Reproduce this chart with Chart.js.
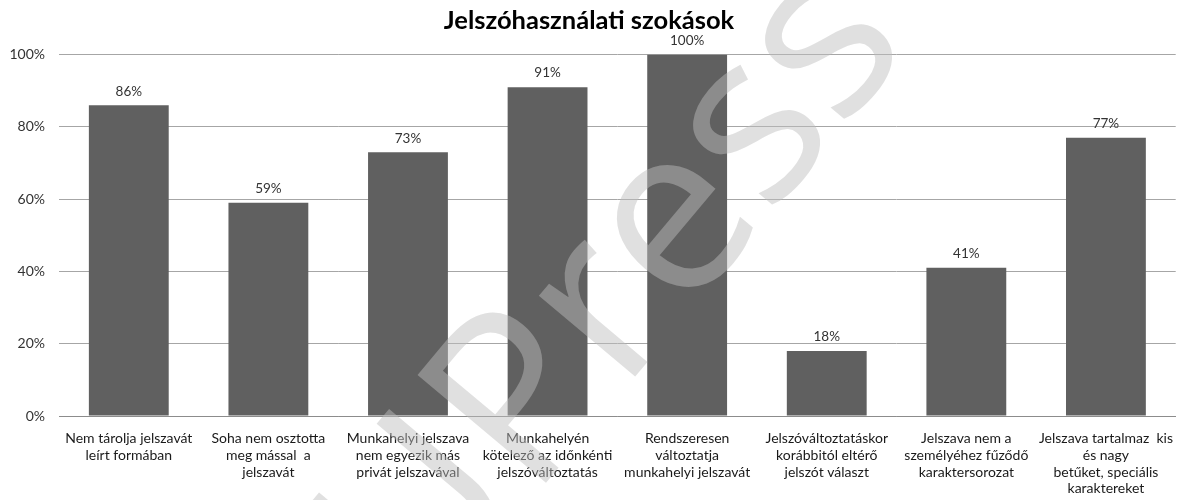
<!DOCTYPE html>
<html>
<head>
<meta charset="utf-8">
<script src="https://cdn.jsdelivr.net/npm/chart.js@4"></script>
<style>
  html, body { margin: 0; padding: 0; background: #fff; }
  #wrap { width: 1179px; height: 500px; }
</style>
</head>
<body>
<div id="wrap"><canvas id="chart" width="1179" height="500"></canvas></div>
<script>
const TITLE = 'Jelszóhasználati szokások';
const CATEGORIES = [
  ['Nem tárolja jelszavát', 'leírt formában'],
  ['Soha nem osztotta', 'meg mással  a', 'jelszavát'],
  ['Munkahelyi jelszava', 'nem egyezik más', 'privát jelszavával'],
  ['Munkahelyén', 'kötelező az időnkénti', 'jelszóváltoztatás'],
  ['Rendszeresen', 'változtatja', 'munkahelyi jelszavát'],
  ['Jelszóváltoztatáskor', 'korábbitól eltérő', 'jelszót választ'],
  ['Jelszava nem a', 'személyéhez fűződő', 'karaktersorozat'],
  ['Jelszava tartalmaz  kis', 'és nagy', 'betűket, speciális', 'karaktereket']
];
const VALUES = [86, 59, 73, 91, 100, 18, 41, 77];
const Y_TICKS = [0, 20, 40, 60, 80, 100];
const WATERMARK = 'HUPress';

const FONT = 'Lato, "Open Sans", sans-serif';

const barLabels = {
  id: 'barLabels',
  afterDatasetsDraw(chart) {
    const { ctx } = chart;
    const meta = chart.getDatasetMeta(0);
    ctx.save();
    ctx.font = '13.5px ' + FONT;
    ctx.fillStyle = '#333';
    ctx.textAlign = 'center';
    ctx.textBaseline = 'middle';
    meta.data.forEach((bar, i) => {
      ctx.fillText(VALUES[i] + '%', bar.x, bar.y - 14);
    });
    ctx.restore();
  }
};

// semi-transparent publisher mark over the plot
const watermark = {
  id: 'watermark',
  afterDraw(chart) {
    const { ctx } = chart;
    ctx.save();
    ctx.translate(560, 362);
    ctx.rotate(-50 * Math.PI / 180);
    ctx.font = '235px "Open Sans", sans-serif';
    ctx.fillStyle = 'rgba(190,190,190,0.47)';
    ctx.textAlign = 'center';
    ctx.textBaseline = 'middle';
    ctx.fillText(WATERMARK, 0, 0);
    ctx.restore();
  }
};

new Chart(document.getElementById('chart'), {
  type: 'bar',
  data: {
    labels: CATEGORIES,
    datasets: [{
      data: VALUES,
      backgroundColor: '#606060',
      categoryPercentage: 1,
      barPercentage: 0.572
    }]
  },
  options: {
    responsive: false,
    animation: false,
    layout: { padding: { top: 0, right: 1, left: 0, bottom: 0 } },
    plugins: {
      legend: { display: false },
      tooltip: { enabled: false },
      title: {
        display: true,
        text: TITLE,
        color: '#000',
        font: { family: FONT, size: 25.5, weight: 'bold', lineHeight: 1.2 },
        padding: { top: 5, bottom: 19 }
      }
    },
    scales: {
      x: {
        grid: { display: false },
        border: { color: '#8c8c8c' },
        ticks: {
          color: '#1a1a1a',
          font: { family: FONT, size: 14, lineHeight: 1.2 },
          maxRotation: 0,
          autoSkip: false,
          padding: 6
        },
        afterFit(scale) { scale.height = 84; }
      },
      y: {
        min: 0,
        max: 100,
        afterBuildTicks(scale) { scale.ticks = Y_TICKS.map(v => ({ value: v })); },
        grid: { color: '#a6a6a6', drawTicks: false },
        border: { display: false },
        ticks: {
          color: '#333',
          font: { family: FONT, size: 14 },
          padding: 14,
          callback: v => v + '%'
        },
        afterFit(scale) { scale.width = 59; }
      }
    }
  },
  plugins: [barLabels, watermark]
});
</script>
</body>
</html>
